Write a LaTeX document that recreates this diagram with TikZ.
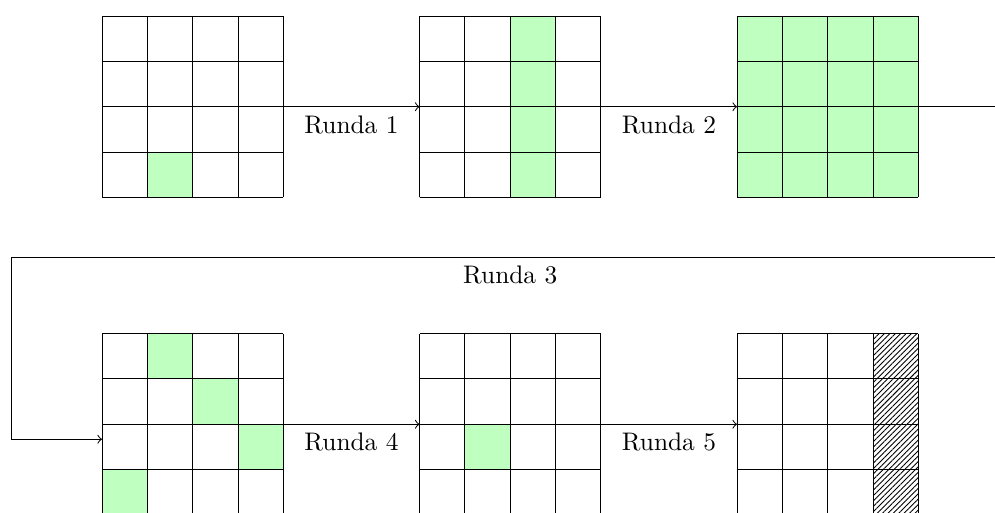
\documentclass[tikz,border=0pt]{standalone}
\usetikzlibrary{patterns.meta}

\tikzset{
  board/.style={minimum size=2.512cm,inner sep=0pt,outer sep=0pt},
  hit/.style={fill=green!25},
  sunk/.style={pattern={Lines[angle=45,distance=1.5pt,line width=0.35pt]}}
}

\begin{document}
\begin{tikzpicture}[x=0.628cm,y=0.628cm]
	\useasboundingbox (-2.249,0.353) rectangle (19.687,-10.95);
	\clip (-2.249,0.353) rectangle (19.687,-10.95);
	% boards
	\foreach \n/\x/\y in {1/0/0,2/7/0,3/14/0,4/0/-7,5/7/-7,6/14/-7}
		\node[board] (b\n) at (\x+2,\y-2) {};
	% hit cells
	\foreach \x/\y/\c/\r in {0/0/1/3,0/-7/1/0,0/-7/2/1,0/-7/3/2,0/-7/0/3,7/-7/1/2}
		\fill[hit] (\x+\c,\y-\r) rectangle ++(1,-1);
	\fill[hit] (9,0) rectangle (10,-4);
	\fill[hit] (14,0) rectangle (18,-4);
	\fill[sunk] (17,-7) rectangle (18,-11);
	\foreach \x/\y in {0/0,7/0,14/0,0/-7,7/-7,14/-7}
		\draw[step=1] (\x,\y) grid ++(4,-4);
	% rounds
	\coordinate (tr) at (20,-5.32);
	\coordinate (tl) at (-2,-5.32);
	\coordinate (bl) at (-2,-9.33);
	\draw[->] (b1.east) -- node[below] {Runda 1} (b2.west);
	\draw[->] (b2.east) -- node[below] {Runda 2} (b3.west);
	\draw[->] (b3.east) -| (tr) -- node[below] {Runda 3} (tl) -- (bl) -- (bl -| b4.west);
	\draw[->] (b4.east) -- node[below] {Runda 4} (b5.west);
	\draw[->] (b5.east) -- node[below] {Runda 5} (b6.west);
\end{tikzpicture}
\end{document}
